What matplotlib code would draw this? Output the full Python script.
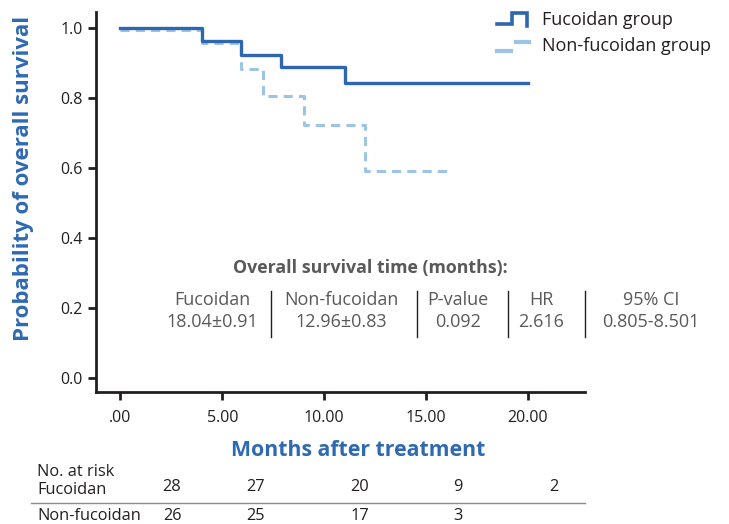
import matplotlib
matplotlib.use("Agg")
import matplotlib.pyplot as plt
from matplotlib.lines import Line2D
from matplotlib.legend_handler import HandlerBase

plt.rcParams['font.family'] = ['Open Sans', 'DejaVu Sans']

# ---- data ----
fuc_times = [0, 4.0, 5.9, 7.9, 11.0, 20.0]
fuc_surv = [1.0, 0.964, 0.924, 0.889, 0.843, 0.843]
non_times = [0, 4.0, 5.9, 7.0, 9.0, 12.0, 16.1]
non_surv = [0.995, 0.959, 0.884, 0.807, 0.725, 0.592, 0.592]

xticks = [0, 5, 10, 15, 20]
xtick_labels = ['.00', '5.00', '10.00', '15.00', '20.00']
yticks = [0.0, 0.2, 0.4, 0.6, 0.8, 1.0]

stat_headers = ['Fucoidan', 'Non-fucoidan', 'P-value', 'HR', '95% CI']
stat_values = ['18.04±0.91', '12.96±0.83', '0.092', '2.616', '0.805-8.501']

risk_fuc = ['28', '27', '20', '9', '2']
risk_non = ['26', '25', '17', '3']

# ---- style ----
C_SOLID = '#2F67AE'
C_DASH = '#9DC3E6'
C_LABEL = '#2E69B3'
C_TEXT = '#231F20'
C_GRAY = '#595959'

W, H = 729, 524
fig = plt.figure(figsize=(W / 100, H / 100), dpi=100)
ax = fig.add_axes([96 / W, 1 - 392 / H, (585 - 96) / W, (392 - 12) / H])

ax.step(fuc_times, fuc_surv, where='post', color=C_SOLID, lw=2.4,
        label='Fucoidan group', zorder=3)
ax.step(non_times, non_surv, where='post', color=C_DASH, lw=2.2,
        linestyle=(0, (3, 2)), label='Non-fucoidan group', zorder=2)

ax.set_xlim(-1.2, 22.8)
ax.set_ylim(-0.04, 1.047)
ax.set_xticks(xticks)
ax.set_xticklabels(xtick_labels)
ax.set_yticks(yticks)
ax.set_yticklabels([f'{v:.1f}' for v in yticks])
for s in ['top', 'right']:
    ax.spines[s].set_visible(False)
for s in ['left', 'bottom']:
    ax.spines[s].set_linewidth(2.0)
    ax.spines[s].set_color(C_TEXT)
ax.tick_params(axis='both', direction='out', length=6, width=2.0,
               color=C_TEXT, labelcolor=C_TEXT, labelsize=11.5)
ax.tick_params(axis='x', pad=7)

ax.set_ylabel('Probability of overall survival', color=C_LABEL,
              fontsize=16, fontweight='bold', va='center')
ax.yaxis.set_label_coords(-0.149, 0.563)
ax.set_xlabel('Months after treatment', color=C_LABEL, fontsize=15.3,
              fontweight='bold', va='center')
ax.xaxis.set_label_coords(0.537, -0.153)


class StepHandler(HandlerBase):
    def create_artists(self, legend, orig_handle, xdescent, ydescent,
                       width, height, fontsize, trans):
        x0 = -xdescent
        y0 = -ydescent
        if orig_handle.get_linestyle() == '-':
            xs = [x0, x0 + 0.47 * width, x0 + 0.47 * width,
                  x0 + 0.95 * width, x0 + 0.95 * width]
            ys = [y0 + 0.15 * height, y0 + 0.15 * height, y0 + 0.95 * height,
                  y0 + 0.95 * height, y0 + 0.0 * height]
            ln = Line2D(xs, ys, color=orig_handle.get_color(), lw=2.6,
                        transform=trans, solid_joinstyle='miter')
            return [ln]
        l1 = Line2D([x0, x0 + 0.45 * width], [y0 + 0.1 * height] * 2,
                    color=orig_handle.get_color(), lw=3.0, transform=trans)
        l2 = Line2D([x0 + 0.58 * width, x0 + width], [y0 + 0.75 * height] * 2,
                    color=orig_handle.get_color(), lw=3.0, transform=trans)
        return [l1, l2]


h_solid = Line2D([], [], color=C_SOLID, linestyle='-')
h_dash = Line2D([], [], color=C_DASH, linestyle='--')
leg = ax.legend([h_solid, h_dash], ['Fucoidan group', 'Non-fucoidan group'],
                handler_map={Line2D: StepHandler()},
                loc='upper left', bbox_to_anchor=(490 / W, 1 - 4 / H),
                bbox_transform=fig.transFigure,
                frameon=False, fontsize=13, handlelength=1.75,
                handleheight=0.8, handletextpad=0.72, labelspacing=0.45,
                borderaxespad=0)
for t in leg.get_texts():
    t.set_color(C_TEXT)

# ---- statistics box ----
def fx(px):
    return px / W


def fy(py):
    return 1 - py / H


fig.text(fx(370), fy(268), 'Overall survival time (months):', ha='center',
         va='center', fontsize=12.8, fontweight='bold', color=C_GRAY)
col_x = [212, 341, 458, 541, 651]
for cx, hd, vl in zip(col_x, stat_headers, stat_values):
    fig.text(fx(cx), fy(300), hd, ha='center', va='center', fontsize=13,
             color=C_GRAY)
    fig.text(fx(cx), fy(322), vl, ha='center', va='center', fontsize=13,
             color=C_GRAY)
for sx in [271, 417, 508, 585]:
    fig.add_artist(Line2D([fx(sx), fx(sx)], [fy(291), fy(337)],
                          transform=fig.transFigure, color=C_TEXT, lw=1.0))

# ---- number at risk ----
fig.text(fx(37), fy(472), 'No. at risk', ha='left', va='center',
         fontsize=11.8, color=C_TEXT)
fig.text(fx(37), fy(490), 'Fucoidan', ha='left', va='center',
         fontsize=11.8, color=C_TEXT)
fig.text(fx(37), fy(516), 'Non-fucoidan', ha='left', va='center',
         fontsize=11.8, color=C_TEXT)
risk_x = [172, 256, 360, 458, 554]
for rx, v in zip(risk_x, risk_fuc):
    fig.text(fx(rx), fy(487), v, ha='center', va='center', fontsize=11.8,
             color=C_TEXT)
for rx, v in zip(risk_x, risk_non):
    fig.text(fx(rx), fy(516), v, ha='center', va='center', fontsize=11.8,
             color=C_TEXT)
fig.add_artist(Line2D([fx(31), fx(585)], [fy(503), fy(503)],
                      transform=fig.transFigure, color='#8C8C8C', lw=1.0))

fig.savefig('out.png', dpi=100)
